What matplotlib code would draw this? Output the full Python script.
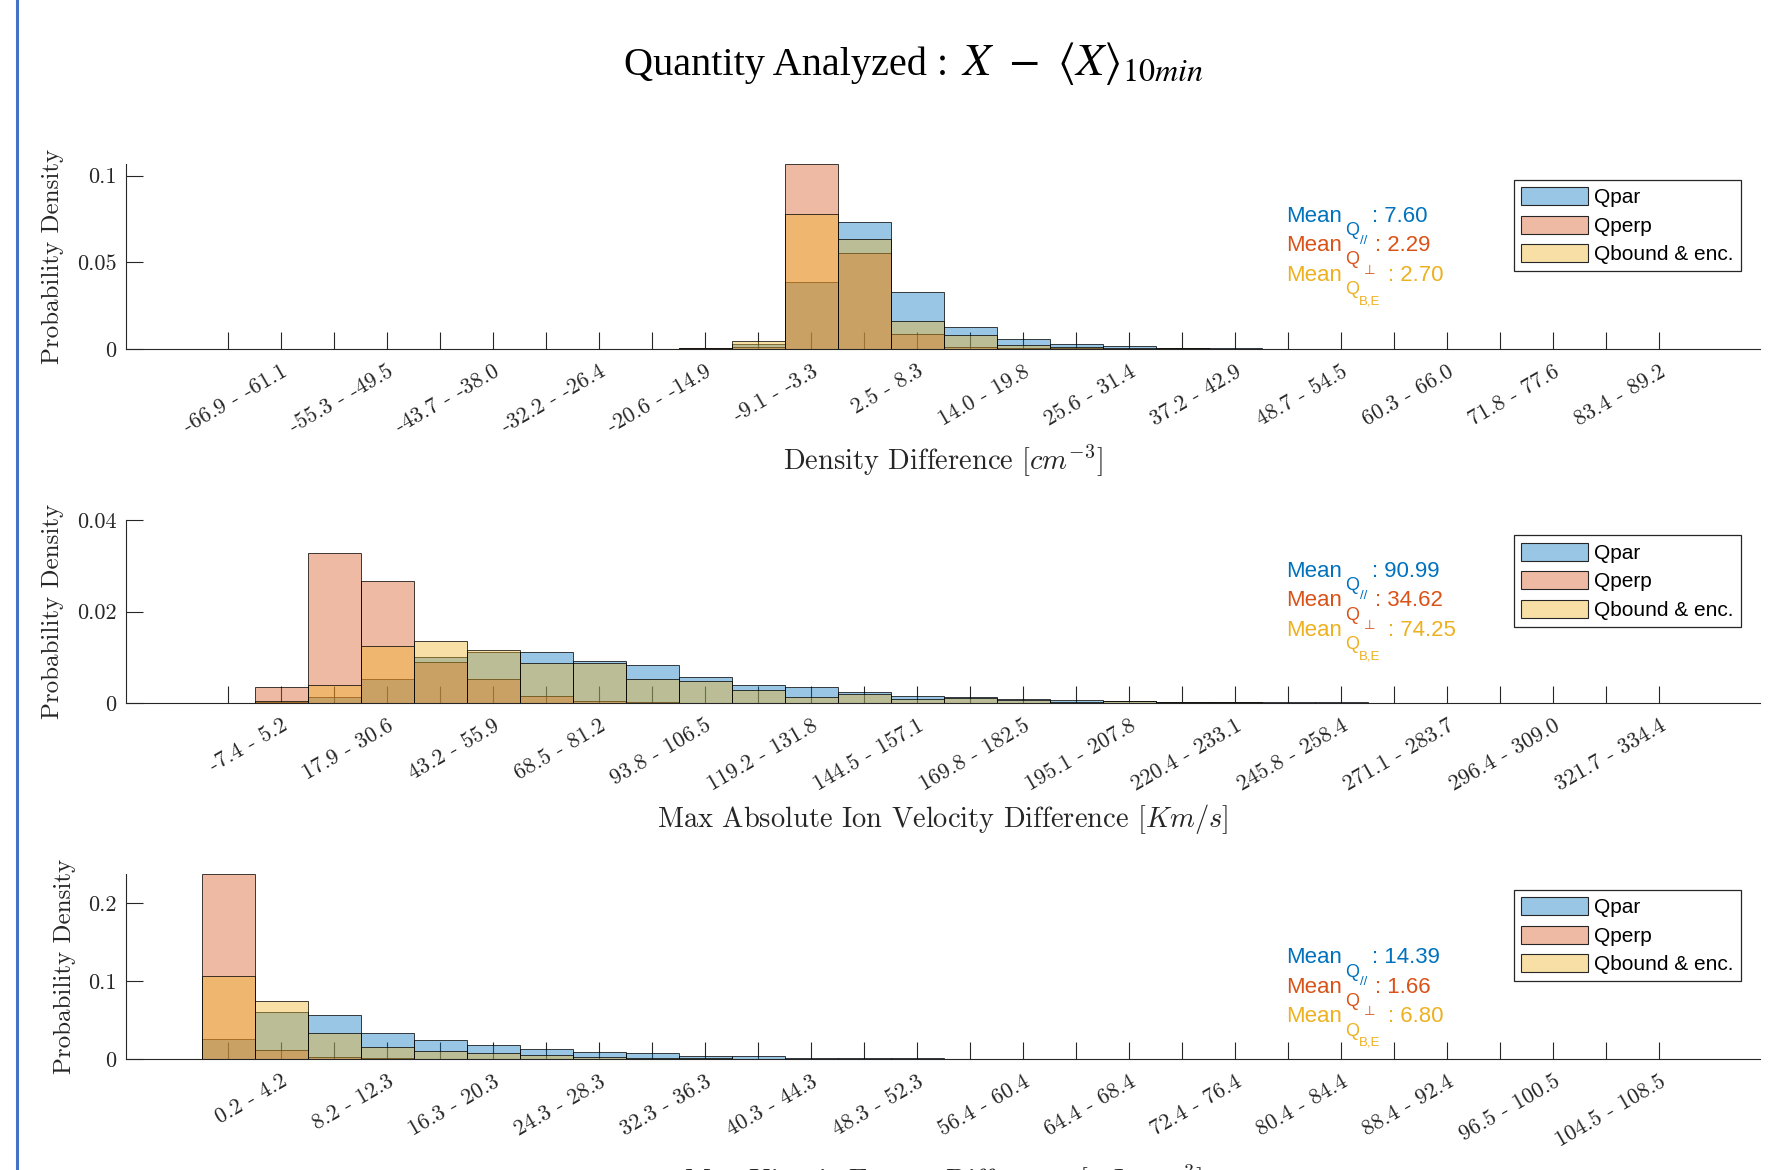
import matplotlib
matplotlib.use('Agg')
import matplotlib.pyplot as plt
from matplotlib.patches import Patch
from matplotlib.lines import Line2D
import numpy as np

# ---- data (probability density per bin, 28 bins per panel) ----
dens_labels = ['-66.9 - -61.1', '-55.3 - -49.5', '-43.7 - -38.0', '-32.2 - -26.4', '-20.6 - -14.9',
               '-9.1 - -3.3', '2.5 - 8.3', '14.0 - 19.8', '25.6 - 31.4', '37.2 - 42.9',
               '48.7 - 54.5', '60.3 - 66.0', '71.8 - 77.6', '83.4 - 89.2']
dens_qpar = [0, 0, 0, 0, 0, 0, 0, 0, 0.0001, 0.0002, 0.0029, 0.0388, 0.0731, 0.0327,
             0.0128, 0.0056, 0.0027, 0.0015, 0.0007, 0.0004, 0.0002, 0.0001, 0.0001, 0, 0, 0, 0, 0]
dens_qperp = [0, 0, 0, 0, 0, 0, 0, 0, 0.0001, 0.0004, 0.0012, 0.1066, 0.0552, 0.0085,
              0.0013, 0.0008, 0.0004, 0.0002, 0.0001, 0, 0, 0, 0, 0, 0, 0, 0, 0]
dens_qbound = [0, 0, 0, 0, 0, 0, 0, 0, 0.0001, 0.0003, 0.0046, 0.0779, 0.0633, 0.0163,
               0.0080, 0.0025, 0.0012, 0.0006, 0.0003, 0.0001, 0, 0, 0, 0, 0, 0, 0, 0]

vel_labels = ['-7.4 - 5.2', '17.9 - 30.6', '43.2 - 55.9', '68.5 - 81.2', '93.8 - 106.5',
              '119.2 - 131.8', '144.5 - 157.1', '169.8 - 182.5', '195.1 - 207.8', '220.4 - 233.1',
              '245.8 - 258.4', '271.1 - 283.7', '296.4 - 309.0', '321.7 - 334.4']
vel_qpar = [0.0001, 0.0002, 0.0013, 0.0054, 0.0100, 0.0113, 0.0111, 0.0092, 0.0083, 0.0058,
            0.0041, 0.0035, 0.0025, 0.0017, 0.0013, 0.0010, 0.0008, 0.0006, 0.0003, 0.0003,
            0.0002, 0.0002, 0.0001, 0.0001, 0.0001, 0, 0, 0]
vel_qperp = [0, 0.0035, 0.0327, 0.0266, 0.0090, 0.0053, 0.0017, 0.0004, 0.0003, 0.0001,
             0, 0, 0, 0, 0, 0, 0, 0, 0, 0, 0, 0, 0, 0, 0, 0, 0, 0]
vel_qbound = [0.0001, 0.0005, 0.0041, 0.0126, 0.0137, 0.0116, 0.0088, 0.0089, 0.0052, 0.0049,
              0.0029, 0.0013, 0.0020, 0.0009, 0.0011, 0.0008, 0.0003, 0.0006, 0.0002, 0.0002,
              0.0001, 0.0001, 0, 0, 0, 0, 0, 0]

ke_labels = ['0.2 - 4.2', '8.2 - 12.3', '16.3 - 20.3', '24.3 - 28.3', '32.3 - 36.3',
             '40.3 - 44.3', '48.3 - 52.3', '56.4 - 60.4', '64.4 - 68.4', '72.4 - 76.4',
             '80.4 - 84.4', '88.4 - 92.4', '96.5 - 100.5', '104.5 - 108.5']
ke_qpar = [0.0253, 0.0600, 0.0561, 0.0338, 0.0244, 0.0180, 0.0124, 0.0090, 0.0077, 0.0043,
           0.0039, 0.0017, 0.0013, 0.0008, 0.0005, 0.0004, 0.0003, 0.0002, 0.0001, 0.0001,
           0, 0, 0, 0, 0, 0, 0, 0]
ke_qperp = [0.2374, 0.0112, 0.0021, 0.0010, 0.0005, 0.0002, 0, 0, 0, 0,
            0, 0, 0, 0, 0, 0, 0, 0, 0, 0, 0, 0, 0, 0, 0, 0, 0, 0]
ke_qbound = [0.1071, 0.0750, 0.0338, 0.0150, 0.0099, 0.0073, 0.0051, 0.0026, 0.0017, 0.0009,
             0.0005, 0.0003, 0.0002, 0, 0, 0, 0, 0, 0, 0, 0, 0, 0, 0, 0, 0, 0, 0]

means = [('7.60', '2.29', '2.70'), ('90.99', '34.62', '74.25'), ('14.39', '1.66', '6.80')]
series_names = ['Qpar', 'Qperp', 'Qbound & enc.']
mean_subs = ['//', '\u22a5', 'B,E']

# ---- style ----
W, H = 1774, 1170
cols = [(0.0, 0.447, 0.741), (0.85, 0.325, 0.098), (0.929, 0.694, 0.125)]
face = [c + (0.4,) for c in cols]
edge = (0, 0, 0, 0.75)
axc = (0.15, 0.15, 0.15)
sans = ['Liberation Sans', 'DejaVu Sans']


def fx(px):
    return px / W


def fy(py):
    return 1 - py / H


fig = plt.figure(figsize=(W / 100, H / 100), dpi=100)
fig.add_artist(Line2D([fx(17), fx(17)], [0, 1], transform=fig.transFigure,
                      color=(0.27, 0.45, 0.77), lw=2.2))

fig.text(fx(624), fy(75), 'Quantity Analyzed :', ha='left', va='baseline',
         fontsize=29, family='Liberation Serif')
fig.text(fx(961), fy(75), r'$X\ -\ \langle X\rangle_{10min}$', ha='left', va='baseline',
         fontsize=33, math_fontfamily='stix')

panels = [
    dict(top=164.3, bot=349.0, ylim=0.1066, yt=[0, 0.05, 0.1], ytl=['0', '0.05', '0.1'],
         labels=dens_labels, data=(dens_qpar, dens_qperp, dens_qbound),
         xlabel=r'Density Difference [$cm^{-3}$]', xl_y=470, mean_y=221.7),
    dict(top=520.0, bot=703.3, ylim=0.04, yt=[0, 0.02, 0.04], ytl=['0', '0.02', '0.04'],
         labels=vel_labels, data=(vel_qpar, vel_qperp, vel_qbound),
         xlabel=r'Max Absolute Ion Velocity Difference [$Km/s$]', xl_y=826.5, mean_y=576.7),
    dict(top=874.3, bot=1059.0, ylim=0.2374, yt=[0, 0.1, 0.2], ytl=['0', '0.1', '0.2'],
         labels=ke_labels, data=(ke_qpar, ke_qperp, ke_qbound),
         xlabel=r'Max Kinetic Energy Difference [$nJ\ cm^{-3}$]', xl_y=1190, mean_y=963.3),
]

left, right = 126.3, 1760.0
nb = 28
idx = np.arange(nb)
subsub_x = [1360, 1364, 1359]
subsub_dy = [22, 22.5, 23.5]
value_x = [1372, 1375, 1388]

for k, p in enumerate(panels):
    ax = fig.add_axes([fx(left), fy(p['bot']), (right - left) / W, (p['bot'] - p['top']) / H])
    for s in range(3):
        ax.bar(idx, p['data'][s], width=1.0, facecolor=face[s], edgecolor=edge,
               linewidth=0.7, zorder=2 + s)
    ax.set_xlim(-1.92, 28.9)
    ax.set_ylim(0, p['ylim'])
    for sp in ['top', 'right']:
        ax.spines[sp].set_visible(False)
    for sp in ['left', 'bottom']:
        ax.spines[sp].set_color(axc)
        ax.spines[sp].set_linewidth(0.8)
        ax.spines[sp].set_zorder(10)
    ax.set_yticks(p['yt'])
    ax.set_yticklabels(p['ytl'], family='cmr10', fontsize=16)
    full = []
    for i in range(nb):
        full.append(p['labels'][(i - 1) // 2] if i % 2 == 1 else '')
    ax.set_xticks(idx)
    ax.set_xticklabels(full, family='cmr10', fontsize=16)
    ax.tick_params(axis='both', direction='in', length=12, width=0.8, color=axc,
                   labelcolor=axc)
    ax.tick_params(axis='x', pad=9)
    ax.tick_params(axis='y', pad=7)
    for lab in ax.get_xticklabels():
        lab.set_rotation(30)
        lab.set_ha('right')
        lab.set_va('top')
        lab.set_rotation_mode('anchor')
    ax.set_ylabel('Probability Density', family='cmr10', fontsize=18, color=axc, labelpad=9)
    fig.text(fx(943), fy(p['xl_y']), p['xlabel'], ha='center', va='baseline',
             fontsize=20.5, family='cmr10', math_fontfamily='cm', color=axc)

    handles = [Patch(facecolor=face[s], edgecolor=axc, linewidth=0.8) for s in range(3)]
    leg = ax.legend(handles, series_names, loc='upper right',
                    bbox_to_anchor=(fx(1741), fy(p['top'] + 15.5)),
                    bbox_transform=fig.transFigure, borderaxespad=0,
                    prop={'family': 'Liberation Sans', 'size': 15}, fancybox=False,
                    framealpha=1, edgecolor=axc, handlelength=3.2, handleheight=0.95,
                    handletextpad=0.3, labelspacing=0.4, borderpad=0.35)
    leg.get_frame().set_linewidth(0.9)

    # Mean annotations built from pieces: Mean, subscript Q, sub-subscript, value
    for s in range(3):
        yb = p['mean_y'] + 29.5 * s
        fig.text(fx(1286), fy(yb), 'Mean', color=cols[s], fontsize=16, family=sans,
                 ha='left', va='baseline')
        fig.text(fx(1345), fy(yb + 13.3), 'Q', color=cols[s], fontsize=13, family=sans,
                 ha='left', va='baseline')
        fig.text(fx(subsub_x[s]), fy(yb + subsub_dy[s]), mean_subs[s], color=cols[s],
                 fontsize=9.5, family=sans, ha='left', va='baseline')
        fig.text(fx(value_x[s]), fy(yb), ': ' + means[k][s], color=cols[s], fontsize=16,
                 family=sans, ha='left', va='baseline')

fig.savefig('out.png', dpi=100)
